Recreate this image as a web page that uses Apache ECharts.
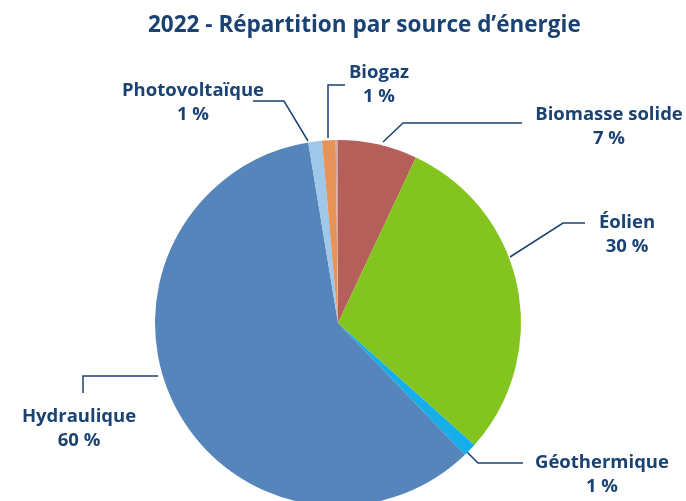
<!DOCTYPE html>
<html>
<head>
<meta charset="utf-8">
<script src="https://cdn.jsdelivr.net/npm/echarts@6/dist/echarts.min.js"></script>
<style>
html, body { margin: 0; padding: 0; background: #fff; }
#chart { width: 686px; height: 501px; }
</style>
</head>
<body>
<div id="chart"></div>
<script>
// sources, clockwise from the top of the pie
var sources = ['Biomasse solide', 'Éolien', 'Géothermique', 'Hydraulique', 'Photovoltaïque', 'Biogaz', 'Autres'];
var shares = [7.0, 29.6, 1.2, 59.6, 1.2, 1.2, 0.2];
var colors = ['#b55f5b', '#84c41f', '#15aee8', '#5585bb', '#9dc8ea', '#e6935a', '#d9a4a4'];

// label boxes (center x, top y) and leader lines, per slice
var labelPos = [
  { x: 609, y: 103, line: [[383, 142], [403, 123], [522, 123]] },
  { x: 627, y: 211, line: [[510, 257], [563, 223], [585, 223]] },
  { x: 602, y: 451, line: [[467, 452], [478, 463], [523, 463]] },
  { x: 79, y: 405, line: [[158, 376], [83, 376], [83, 393]] },
  { x: 193, y: 79, line: [[308, 141], [284, 101], [253, 101]] },
  { x: 379, y: 61, line: [[328, 138], [328, 85], [345, 85]] },
  null
];

var navy = '#1a4273';

var myChart = echarts.init(document.getElementById('chart'));
var option = {
  animation: false,
  title: {
    text: '2022 - Répartition par source d’énergie',
    left: 143,
    top: 9,
    textStyle: {
      color: navy,
      fontSize: 22.5,
      fontWeight: 'bold',
      fontFamily: 'Open Sans'
    }
  },
  series: [
    {
      type: 'pie',
      center: [338, 323],
      radius: 183,
      startAngle: 90,
      clockwise: true,
      silent: true,
      avoidLabelOverlap: false,
      label: {
        show: true,
        color: navy,
        fontSize: 18.5,
        fontWeight: 'bold',
        fontFamily: 'Open Sans',
        lineHeight: 24,
        align: 'center',
        formatter: function (p) {
          return p.name + '\n' + Math.round(p.value) + ' %';
        }
      },
      labelLine: {
        show: true,
        lineStyle: { color: navy, width: 1.5 }
      },
      labelLayout: function (params) {
        var pos = labelPos[params.dataIndex];
        if (!pos) return {};
        return {
          x: pos.x,
          y: pos.y,
          align: 'center',
          verticalAlign: 'top',
          labelLinePoints: pos.line
        };
      },
      data: sources.map(function (name, i) {
        var item = { name: name, value: shares[i], itemStyle: { color: colors[i] } };
        if (!labelPos[i]) {
          item.label = { show: false };
          item.labelLine = { show: false };
        }
        return item;
      })
    }
  ]
};
myChart.setOption(option);
</script>
</body>
</html>
